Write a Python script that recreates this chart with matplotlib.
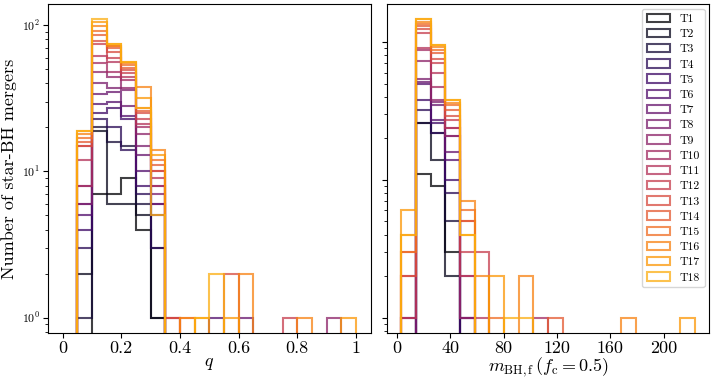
import numpy as np
import matplotlib
import matplotlib.pyplot as plt
from matplotlib.ticker import MultipleLocator, FuncFormatter

matplotlib.use("Agg")

plt.rcParams["font.family"] = "serif"
plt.rcParams["font.serif"] = ["cmr10"]
plt.rcParams["mathtext.fontset"] = "cm"
plt.rcParams["axes.formatter.use_mathtext"] = True

labels = [f"T{i}" for i in range(1, 19)]

# bin edges of the two histograms
q_edges = np.linspace(0.0, 1.0, 21)
m_edges = np.linspace(3.3, 223.3, 21)

# mergers per bin of q, one row per snapshot
q_counts = [
    [0, 0, 7, 7, 9, 4, 1, 0, 0, 0, 0, 0, 0, 0, 0, 0, 0, 0, 0, 0],
    [0, 2, 19, 6, 6, 5, 1, 0, 0, 0, 0, 0, 0, 0, 0, 0, 0, 0, 0, 0],
    [0, 1, 20, 16, 15, 6, 3, 0, 0, 0, 0, 0, 0, 0, 0, 0, 0, 0, 0, 0],
    [0, 3, 23, 20, 14, 7, 3, 0, 0, 0, 0, 0, 0, 0, 0, 0, 0, 0, 0, 0],
    [0, 4, 25, 27, 23, 8, 5, 0, 0, 0, 0, 0, 0, 0, 0, 0, 0, 0, 0, 0],
    [0, 5, 29, 30, 24, 10, 6, 0, 0, 0, 1, 0, 0, 0, 0, 0, 0, 0, 0, 0],
    [0, 6, 34, 35, 28, 13, 6, 0, 0, 0, 0, 0, 1, 0, 0, 0, 0, 0, 0, 0],
    [0, 6, 40, 37, 36, 15, 7, 0, 0, 0, 0, 0, 0, 0, 0, 0, 0, 0, 0, 0],
    [0, 8, 48, 44, 37, 18, 8, 0, 0, 0, 0, 0, 0, 0, 0, 0, 0, 0, 1, 0],
    [0, 8, 55, 48, 42, 20, 8, 0, 0, 0, 0, 0, 0, 0, 0, 0, 0, 0, 0, 0],
    [0, 12, 62, 56, 44, 21, 9, 1, 0, 0, 0, 0, 0, 0, 0, 0, 0, 0, 0, 0],
    [0, 15, 74, 60, 47, 23, 10, 1, 0, 0, 0, 0, 0, 0, 0, 1, 0, 0, 0, 0],
    [0, 15, 78, 66, 49, 25, 10, 1, 0, 0, 0, 2, 0, 0, 0, 0, 0, 0, 0, 0],
    [0, 16, 85, 70, 51, 26, 11, 0, 0, 0, 0, 0, 0, 0, 0, 0, 0, 0, 0, 0],
    [0, 17, 91, 72, 53, 27, 12, 0, 1, 0, 0, 0, 0, 0, 0, 0, 0, 0, 0, 0],
    [0, 18, 98, 72, 55, 38, 14, 0, 1, 0, 0, 0, 2, 0, 0, 0, 1, 0, 0, 0],
    [0, 19, 105, 74, 56, 32, 13, 0, 0, 1, 0, 1, 0, 0, 0, 0, 0, 0, 0, 1],
    [0, 19, 110, 74, 56, 27, 5, 0, 0, 1, 2, 0, 0, 0, 0, 0, 0, 0, 0, 0],
]

# mergers per bin of final BH mass
m_counts = [
    [0, 11, 9, 3, 0, 0, 0, 0, 0, 0, 0, 0, 0, 0, 0, 0, 0, 0, 0, 0],
    [0, 26, 14, 2, 0, 0, 0, 0, 0, 0, 0, 0, 0, 0, 0, 0, 0, 0, 0, 0],
    [0, 26, 22, 5, 0, 0, 0, 0, 0, 0, 0, 0, 0, 0, 0, 0, 0, 0, 0, 0],
    [0, 32, 22, 8, 0, 0, 0, 0, 0, 0, 0, 0, 0, 0, 0, 0, 0, 0, 0, 0],
    [0, 38, 26, 10, 0, 0, 0, 0, 0, 0, 0, 0, 0, 0, 0, 0, 0, 0, 0, 0],
    [0, 50, 27, 14, 1, 0, 0, 0, 0, 0, 0, 0, 0, 0, 0, 0, 0, 0, 0, 0],
    [0, 51, 35, 16, 1, 0, 0, 0, 0, 0, 0, 0, 0, 0, 0, 0, 0, 0, 0, 0],
    [0, 54, 37, 21, 1, 0, 0, 0, 0, 0, 0, 0, 0, 0, 0, 0, 0, 0, 0, 0],
    [1, 73, 38, 21, 1, 0, 0, 0, 0, 0, 0, 0, 0, 0, 0, 0, 0, 0, 0, 0],
    [1, 87, 47, 24, 2, 0, 0, 0, 0, 1, 0, 0, 0, 0, 0, 0, 0, 0, 0, 0],
    [1, 90, 60, 24, 2, 1, 0, 0, 0, 0, 0, 0, 0, 0, 0, 0, 0, 0, 0, 0],
    [2, 116, 71, 27, 3, 3, 0, 0, 0, 0, 0, 0, 0, 0, 0, 0, 0, 0, 0, 0],
    [2, 125, 75, 29, 5, 0, 0, 0, 0, 0, 0, 0, 0, 0, 0, 0, 0, 0, 0, 0],
    [3, 132, 83, 32, 5, 0, 0, 0, 0, 0, 1, 0, 0, 0, 0, 0, 0, 0, 0, 0],
    [3, 136, 88, 35, 6, 0, 1, 0, 0, 0, 0, 0, 0, 0, 0, 0, 0, 0, 0, 0],
    [4, 140, 92, 36, 7, 2, 0, 0, 2, 0, 0, 0, 0, 0, 0, 1, 0, 0, 0, 0],
    [6, 147, 96, 38, 4, 0, 2, 0, 0, 0, 0, 0, 0, 0, 0, 0, 0, 0, 0, 1],
    [4, 147, 96, 38, 4, 0, 0, 1, 1, 0, 0, 0, 0, 0, 0, 0, 0, 0, 0, 0],
]

colors = plt.cm.inferno(np.linspace(0, 0.82, len(labels)))

fig = plt.figure(figsize=(7.14, 3.78), dpi=100)
ax1 = fig.add_axes([0.067, 0.12, 0.452, 0.869])
ax2 = fig.add_axes([0.5416, 0.12, 0.452, 0.869])

for ax, edges, counts in ((ax1, q_edges, q_counts), (ax2, m_edges, m_counts)):
    centers = 0.5 * (edges[1:] + edges[:-1])
    for label, color, row in zip(labels, colors, counts):
        ax.hist(centers, bins=edges, weights=row, histtype="step",
                color=color, alpha=0.75, lw=1.5, label=label)
    ax.set_yscale("log")
    ax.tick_params(axis="x", labelsize=13, pad=2)
    ax.tick_params(axis="y", labelsize=8.5, pad=2)
    ax.xaxis.set_major_formatter(FuncFormatter(lambda v, p: f"{v:g}"))

ax1.xaxis.set_major_locator(MultipleLocator(0.2))
ax2.xaxis.set_major_locator(MultipleLocator(40))
ax2.set_xlim(-7.7, 234.3)
ax2.tick_params(axis="y", which="both", labelleft=False)

ax1.set_xlabel(r"$q$", fontsize=13, labelpad=0)
ax2.set_xlabel(r"$m_{\rm BH,f}\,(f_{\rm c}=0.5)$", fontsize=13, labelpad=0)
ax1.set_ylabel("Number of star-BH mergers", fontsize=13)
ax1.yaxis.set_label_coords(-0.097, 0.5)

ax2.legend(loc="upper right", fontsize=8.5, labelspacing=0.42,
           borderaxespad=0.4)

fig.savefig("out.png", dpi=100)
plt.close(fig)
